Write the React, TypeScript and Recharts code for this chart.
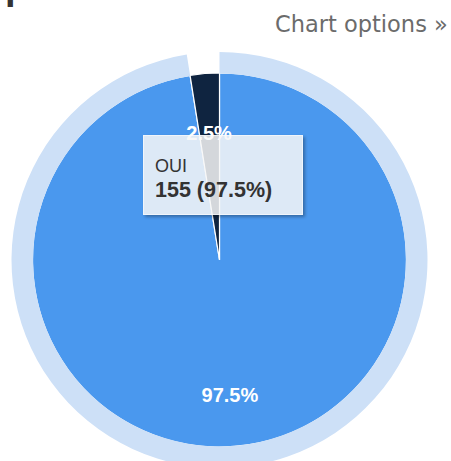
import React from 'react';
import { PieChart, Pie, Cell, Tooltip } from 'recharts';

const categories = ['OUI', 'NON'];
const values = [155, 4];
const sliceColors = ['#4a98ee', '#0f2440'];
const haloColors = ['#cde0f7', 'transparent'];
const titleText = 'présentés ?';
const optionsText = 'Chart options »';

const data = categories.map((name, i) => ({ name, value: values[i] }));
const total = values.reduce((a, b) => a + b, 0);
const RADIAN = Math.PI / 180;

const renderLabel = (props: any) => {
  const { cx, cy, midAngle, outerRadius, percent } = props;
  const r = outerRadius * 0.705;
  const x = cx + r * Math.cos(-midAngle * RADIAN);
  const y = cy + r * Math.sin(-midAngle * RADIAN) + 4;
  return (
    <text
      x={x}
      y={y}
      textAnchor="middle"
      dominantBaseline="central"
      fill="#ffffff"
      fontSize={20}
      fontWeight="bold"
      fontFamily="'Liberation Sans', Arial, sans-serif"
    >
      {(percent * 100).toFixed(1) + '%'}
    </text>
  );
};

const TooltipBox = () => {
  const idx = 0;
  const pct = ((values[idx] / total) * 100).toFixed(1);
  return (
    <div
      style={{
        position: 'relative',
        width: 158,
        height: 78,
        background: 'rgba(247,247,247,0.85)',
        border: '1px solid rgba(255,255,255,0.55)',
        boxShadow: '2px 2px 3px rgba(0,0,0,0.3)',
        fontFamily: "'Liberation Sans', Arial, sans-serif",
        color: '#333333',
      }}
    >
      <div style={{ position: 'absolute', left: 11, top: 21, fontSize: 18, lineHeight: '18px', whiteSpace: 'nowrap' }}>
        {categories[idx]}
      </div>
      <div style={{ position: 'absolute', left: 11, top: 43, fontSize: 21.5, lineHeight: '22px', fontWeight: 'bold', whiteSpace: 'nowrap' }}>
        {values[idx]} ({pct}%)
      </div>
    </div>
  );
};

export default function App() {
  return (
    <div style={{ position: 'absolute', left: 0, top: 0, width: 451, height: 461, background: '#ffffff', overflow: 'hidden' }}>
      <svg width={451} height={461} style={{ position: 'absolute', left: 0, top: 0 }}>
        <text x={5} y={-1.5} fontSize={38} fontWeight="bold" fill="#333333" fontFamily="'Liberation Sans', Arial, sans-serif">
          {titleText}
        </text>
        <text x={275} y={32} fontSize={22.5} fill="#6b6b6b" fontFamily="'DejaVu Sans', Verdana, sans-serif">
          {optionsText}
        </text>
      </svg>
      <div style={{ position: 'absolute', left: 0, top: 0 }}>
        <PieChart width={451} height={461} margin={{ top: 0, right: 0, bottom: 0, left: 0 }}>
          <Pie
            data={data}
            dataKey="value"
            nameKey="name"
            cx={219.5}
            cy={260}
            innerRadius={0}
            outerRadius={187}
            startAngle={90}
            endAngle={-270}
            stroke="#ffffff"
            strokeWidth={1.2}
            label={renderLabel}
            labelLine={false}
            isAnimationActive={false}
          >
            {data.map((d, i) => (
              <Cell key={d.name} fill={sliceColors[i]} />
            ))}
          </Pie>
          <Pie
            data={data}
            dataKey="value"
            nameKey="name"
            cx={219.5}
            cy={260}
            innerRadius={186.4}
            outerRadius={208}
            startAngle={90}
            endAngle={-270}
            stroke="none"
            isAnimationActive={false}
          >
            {data.map((d, i) => (
              <Cell key={d.name} fill={haloColors[i]} />
            ))}
          </Pie>
          <Tooltip
            active
            defaultIndex={0}
            position={{ x: 143, y: 135 }}
            content={() => <TooltipBox />}
            isAnimationActive={false}
            cursor={false}
            wrapperStyle={{ outline: 'none' }}
          />
        </PieChart>
      </div>
    </div>
  );
}
